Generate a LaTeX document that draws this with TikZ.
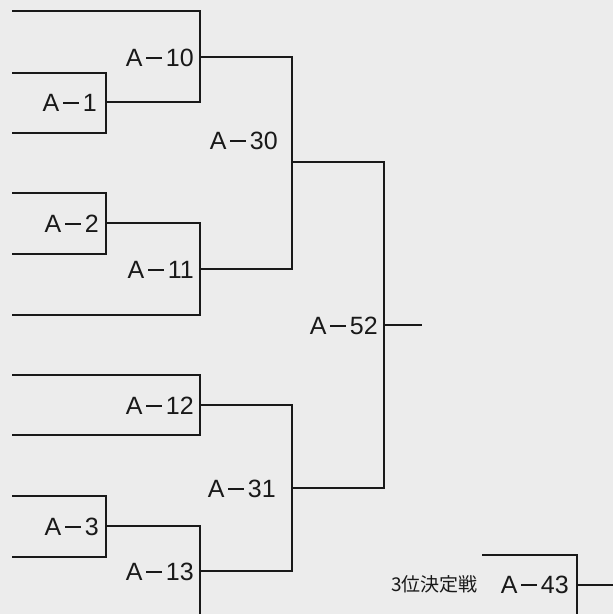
\documentclass[tikz,border=0pt]{standalone}
\usepackage{fontspec}
\setmainfont{Liberation Sans}
\newfontfamily\jpfont{Noto Sans CJK JP}
\definecolor{paper}{RGB}{236,236,236}
\definecolor{ink}{RGB}{25,25,25}
\newcommand{\mn}{\kern4pt\rule[8pt]{15.5pt}{2pt}\kern4pt}
\tikzset{
  bracket/.style={draw=ink, line width=2.1pt, line join=miter},
  lab/.style={anchor=east, inner sep=0pt, text=ink, font=\fontsize{25pt}{25pt}\selectfont},
  jlab/.style={anchor=east, inner sep=0pt, text=ink, font=\jpfont\fontsize{19pt}{19pt}\selectfont}
}
\begin{document}
\begin{tikzpicture}[x=1pt,y=-1pt]
\fill[paper] (0,0) rectangle (613,614);
\useasboundingbox (0,0) rectangle (613,614);
\clip (0,0) rectangle (613,614);
% entry points
\coordinate (s1) at (12,11);
\coordinate (s2) at (12,73);
\coordinate (s3) at (12,133);
\coordinate (s4) at (12,193);
\coordinate (s5) at (12,254);
\coordinate (s6) at (12,315);
\coordinate (s7) at (12,375);
\coordinate (s8) at (12,435);
\coordinate (s9) at (12,496);
\coordinate (s10) at (12,557);
% match points
\coordinate (m1) at (106,102);
\coordinate (m2) at (106,223);
\coordinate (m3) at (106,526);
\coordinate (m10) at (200,57);
\coordinate (m11) at (200,269);
\coordinate (m12) at (200,405);
\coordinate (m13) at (200,571);
\coordinate (b13) at (200,625);
\coordinate (m30) at (292,162);
\coordinate (m31) at (292,488);
\coordinate (m52) at (384,325);
\coordinate (e52) at (422,325);
\coordinate (s43) at (482,555);
\coordinate (m43) at (577,585);
\coordinate (b43) at (577,625);
\coordinate (e43) at (613,585);
% brackets
\draw[bracket] (s2) -| (m1) |- (s3);
\draw[bracket] (s4) -| (m2) |- (s5);
\draw[bracket] (s9) -| (m3) |- (s10);
\draw[bracket] (s1) -| (m10) |- (m1);
\draw[bracket] (m2) -| (m11) |- (s6);
\draw[bracket] (s7) -| (m12) |- (s8);
\draw[bracket] (m3) -| (m13) -- (b13);
\draw[bracket] (m10) -| (m30) |- (m11);
\draw[bracket] (m12) -| (m31) |- (m13);
\draw[bracket] (m30) -| (m52) |- (m31);
\draw[bracket] (m52) -- (e52);
\draw[bracket] (s43) -| (m43) -- (b43);
\draw[bracket] (m43) -- (e43);
% labels
\node[lab] (l1) at (97,103) {A\mn1};
\node[lab] (l2) at (99,224) {A\mn2};
\node[lab] (l3) at (99,527) {A\mn3};
\node[lab] (l10) at (194,58) {A\mn10};
\node[lab] (l11) at (194,270) {A\mn11};
\node[lab] (l12) at (194,406) {A\mn12};
\node[lab] (l13) at (194,572) {A\mn13};
\node[lab] (l30) at (278,141) {A\mn30};
\node[lab] (l31) at (276,489) {A\mn31};
\node[lab] (l52) at (378,326) {A\mn52};
\node[lab] (l43) at (569,585) {A\mn43};
\node[jlab] (j43) at (478,584) {3位決定戦};
\end{tikzpicture}
\end{document}
